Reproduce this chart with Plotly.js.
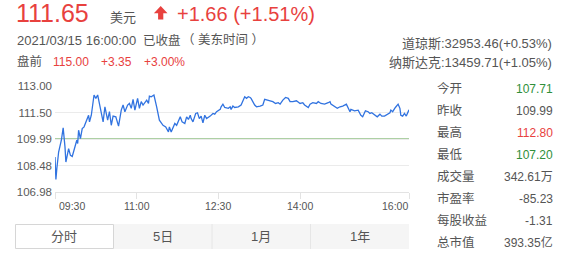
<!DOCTYPE html>
<html>
<head>
<meta charset="utf-8">
<script src="https://cdn.plot.ly/plotly-3.0.1.min.js"></script>
<style>
  html, body { margin: 0; padding: 0; background: #fff; }
  #chart { width: 564px; height: 258px; }
</style>
</head>
<body>
<div id="chart"></div>
<script>
// ---- quote data (2021-03-15 regular session, intraday) ----
const tradeDate = '2021-03-15';
const times = [
  '09:30','09:31','09:32','09:34','09:37','09:39','09:41','09:42','09:45','09:47',
  '09:49','09:52','09:54','09:55','09:56','09:58','10:00','10:02','10:05','10:07',
  '10:08','10:10','10:13','10:15','10:17','10:20','10:23','10:25','10:28','10:30',
  '10:32','10:34','10:37','10:40','10:43','10:45','10:47','10:50','10:52','10:54',
  '10:56','10:58','11:01','11:03','11:05','11:07','11:11','11:13','11:14','11:16',
  '11:19','11:22','11:24','11:25','11:29','11:32','11:35','11:36','11:38',
  '11:42','11:44','11:48','11:50','11:53','11:55','11:57','11:59','12:00','12:02',
  '12:05','12:07','12:09','12:11','12:13','12:15','12:17','12:21','12:24','12:26',
  '12:28','12:32','12:33','12:35','12:37','12:41','12:43','12:44','12:46','12:48',
  '12:52','12:55','12:57','12:59','13:01','13:03','13:05','13:06','13:10','13:12',
  '13:16','13:19','13:21','13:23','13:27','13:30','13:33','13:36','13:38','13:41',
  '13:44','13:47','13:49',
  '13:52','13:56','14:00','14:03','14:05','14:09','14:11','14:14','14:18','14:20',
  '14:23','14:27','14:31','14:33','14:34','14:38','14:41','14:44','14:47','14:51',
  '14:53','14:55','14:56','15:00','15:04','15:07','15:09','15:12','15:15','15:17',
  '15:19','15:22','15:25','15:28','15:30','15:33','15:37','15:39','15:40','15:42',
  '15:45','15:48','15:50','15:51','15:53','15:55','15:57','15:59','16:00'
];
const prices = [
  108.97,107.69,108.30,109.25,109.92,110.62,109.54,108.68,109.44,109.06,
  109.00,109.54,109.92,109.73,110.49,110.01,110.58,110.68,111.06,111.34,
  110.96,111.34,112.49,112.30,112.49,111.73,110.96,111.82,111.06,111.54,
  110.77,111.29,111.25,110.72,111.63,111.92,111.54,111.92,112.01,111.73,
  112.24,111.63,112.30,111.73,112.11,111.92,112.20,112.01,112.43,112.39,
  112.49,111.82,111.34,111.06,110.77,110.68,110.39,110.68,110.39,
  110.87,110.77,111.25,110.96,110.87,111.25,111.10,111.34,111.15,110.96,
  111.44,111.48,111.15,111.29,110.91,111.34,111.15,111.29,111.44,111.40,
  111.54,111.67,111.82,111.97,111.78,111.73,111.82,111.67,111.86,111.78,
  111.82,111.92,112.20,112.39,112.30,112.39,112.35,112.30,111.92,111.82,
  111.86,111.92,112.24,112.20,112.16,112.11,112.01,112.05,111.97,112.20,
  112.35,112.30,112.11,
  112.11,112.16,112.01,112.05,111.92,111.78,111.97,112.05,112.01,112.11,
  112.01,111.97,112.05,112.11,111.97,111.82,111.73,111.82,111.86,111.97,
  111.73,111.54,111.67,111.59,111.63,111.34,111.25,111.59,111.54,111.44,
  111.48,111.34,111.25,111.40,111.29,111.29,111.44,111.48,111.63,111.54,
  111.78,111.97,111.73,111.34,111.29,111.44,111.29,111.48,111.65
];

const prevClose = 109.99;
const lastPrice = 111.65;
const change = 1.66;
const changePct = 1.51;
const quoteTime = '2021/03/15 16:00:00';
const preMarket = ['115.00', '+3.35', '+3.00%'];
const indexLines = ['道琼斯:32953.46(+0.53%)', '纳斯达克:13459.71(+1.05%)'];

const yRange = [106.98, 113.00];
const yTickVals = [106.98, 108.485, 109.99, 111.495, 113.00];
const yTickLabels = ['106.98', '108.48', '109.99', '111.50', '113.00'];
const xTickTimes = ['09:30', '11:00', '12:30', '14:00', '16:00'];

const quoteLabels = ['今开', '昨收', '最高', '最低'];
const quoteValues = [107.71, 109.99, 112.80, 107.20];
const statLabels = ['成交量', '市盈率', '每股收益', '总市值'];
const statValues = ['342.61万', '-85.23', '-1.31', '393.35亿'];
const tabLabels = ['分时', '5日', '1月', '1年'];

// ---- styling / geometry ----
const FONT = 'Liberation Sans, Arial, Noto Sans CJK SC, sans-serif';
const RED = '#e8413e', GREEN = '#2f8f3a', GRAY = '#555555', BLUE = '#3173e0';
const W = 564, H = 258;
const M = { l: 55, r: 155, t: 86, b: 66 };
const PW = W - M.l - M.r, PH = H - M.t - M.b;
// pixel -> paper coordinates
const X = px => (px - M.l) / PW;
const Y = py => (H - M.b - py) / PH;
const dt = t => tradeDate + ' ' + t;

function label(text, x, y, size, color, anchor) {
  return {
    xref: 'paper', yref: 'paper', x: X(x), y: Y(y),
    xanchor: anchor || 'left', yanchor: 'middle',
    text: text, showarrow: false, borderpad: 0,
    font: { family: FONT, size: size, color: color }
  };
}

const priceColor = v => v > prevClose ? RED : (v < prevClose ? GREEN : GRAY);
const sign = v => (v >= 0 ? '+' : '') + v.toFixed(2);

const annotations = [];
// header
annotations.push(label(lastPrice.toFixed(2), 15, 12.8, 25, RED));
annotations.push(label('美元', 109, 17.2, 13, GRAY));
annotations.push(label(sign(change) + ' (' + sign(changePct) + '%)', 176, 13.8, 20, RED));
annotations.push(label(quoteTime, 15.5, 40, 13, GRAY));
annotations.push(label('已收盘', 142, 40, 12.5, GRAY));
annotations.push(label('（ 美东时间 ）', 181, 40, 12.5, GRAY));
annotations.push(label('盘前', 15.5, 61.5, 12.5, GRAY));
[52, 100, 142.5].forEach((x, i) => annotations.push(label(preMarket[i], x, 61.5, 12, RED)));
indexLines.forEach((s, i) => annotations.push(label(s, 553, 43.3 + i * 19, 13, GRAY, 'right')));

// quote table
const rowY = i => 88.5 + 22 * i;
quoteLabels.forEach((s, i) => {
  annotations.push(label(s, 436, rowY(i), 12.5, GRAY));
  annotations.push(label(quoteValues[i].toFixed(2), 554, rowY(i), 12, priceColor(quoteValues[i]), 'right'));
});
statLabels.forEach((s, i) => {
  const r = i + quoteLabels.length;
  annotations.push(label(s, 436, rowY(r), 12.5, GRAY));
  annotations.push(label(statValues[i], 554, rowY(r), 12, GRAY, 'right'));
});

// x tick labels, kept inside the plot edges
xTickTimes.forEach((t, i) => {
  const last = xTickTimes.length - 1;
  annotations.push({
    xref: 'x', yref: 'paper', x: dt(t), y: Y(206),
    xanchor: i === 0 ? 'left' : (i === last ? 'right' : 'center'),
    xshift: i === 0 ? 3 : 0, yanchor: 'middle',
    text: t, showarrow: false, borderpad: 0,
    font: { family: FONT, size: 10.5, color: GRAY }
  });
});

// tab bar
const tabX0 = 15, tabX1 = 409, tabY0 = 224, tabY1 = 249;
const tabW = (tabX1 - tabX0) / tabLabels.length;
const shapes = [
  { type: 'line', xref: 'paper', yref: 'y', x0: 0, x1: 1, y0: prevClose, y1: prevClose,
    line: { color: '#5aa048', width: 1 }, layer: 'below' },
  { type: 'rect', xref: 'paper', yref: 'paper', x0: X(tabX0), x1: X(tabX1), y0: Y(tabY1), y1: Y(tabY0),
    fillcolor: '#f5f5f5', line: { width: 0 } },
  { type: 'rect', xref: 'paper', yref: 'paper', x0: X(tabX0 + 0.5), x1: X(tabX0 + tabW), y0: Y(tabY1 - 0.5), y1: Y(tabY0 + 0.5),
    fillcolor: '#ffffff', line: { color: '#d6d6d6', width: 1 } }
];
for (let i = 2; i < tabLabels.length; i++) {
  const x = tabX0 + tabW * i;
  shapes.push({ type: 'line', xref: 'paper', yref: 'paper', x0: X(x), x1: X(x), y0: Y(tabY1), y1: Y(tabY0),
    line: { color: '#e6e6e6', width: 1 } });
}
tabLabels.forEach((s, i) => annotations.push(
  label(s, tabX0 + tabW * (i + 0.5), (tabY0 + tabY1) / 2, 13, GRAY, 'center')));

// rising arrow next to the change
const arrow = [[160.7, 6], [167.5, 13.2], [163.3, 13.2], [163.3, 19.5], [158.1, 19.5], [158.1, 13.2], [153.9, 13.2]];
shapes.push({
  type: 'path', xref: 'paper', yref: 'paper',
  path: 'M' + arrow.map(p => X(p[0]).toFixed(5) + ',' + Y(p[1]).toFixed(5)).join(' L') + ' Z',
  fillcolor: RED, line: { width: 0 }
});

const trace = {
  x: times.map(dt), y: prices, type: 'scatter', mode: 'lines',
  line: { color: BLUE, width: 1.3 }, hoverinfo: 'skip'
};

const layout = {
  width: W, height: H, margin: M,
  paper_bgcolor: '#ffffff', plot_bgcolor: '#ffffff',
  showlegend: false,
  font: { family: FONT, color: GRAY },
  xaxis: {
    type: 'date', range: [dt('09:30'), dt('16:00')],
    showgrid: false, zeroline: false, showline: true, linecolor: '#e3e3e3', linewidth: 1,
    ticks: 'outside', ticklen: 6, tickcolor: '#e3e3e3', tickwidth: 1,
    tickvals: xTickTimes.map(dt), showticklabels: false, fixedrange: true, automargin: false
  },
  yaxis: {
    range: yRange, tickvals: yTickVals, ticktext: yTickLabels,
    showgrid: true, gridcolor: '#ebebeb', gridwidth: 1, zeroline: false, showline: false,
    ticks: '', ticklabelstandoff: 2, tickfont: { family: FONT, size: 11.5, color: '#5a5a5a' },
    fixedrange: true, automargin: false
  },
  shapes: shapes,
  annotations: annotations
};

Plotly.newPlot('chart', [trace], layout, { staticPlot: true, displayModeBar: false });
</script>
</body>
</html>
